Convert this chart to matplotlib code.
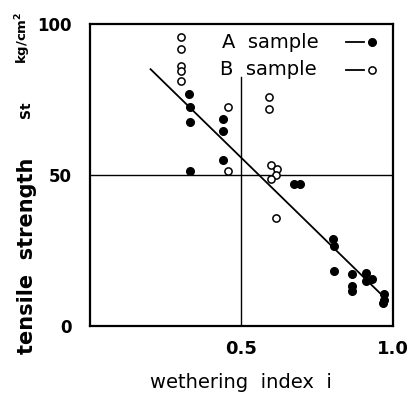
import matplotlib
matplotlib.use("Agg")
import matplotlib.pyplot as plt
import numpy as np

plt.rcParams['font.family'] = ['DejaVu Sans']

# --- data: weathering index vs tensile strength ---
a_index = [0.327, 0.329, 0.329, 0.329, 0.439, 0.439, 0.439,
           0.675, 0.693, 0.802, 0.805, 0.804, 0.864, 0.864, 0.864,
           0.912, 0.912, 0.930, 0.971, 0.971, 0.968]
a_strength = [76.7, 72.4, 67.4, 51.2, 68.7, 64.7, 55.0,
              47.0, 47.0, 28.7, 26.5, 18.3, 17.2, 13.2, 11.5,
              17.7, 15.0, 15.7, 10.6, 8.6, 7.5]

b_index = [0.300, 0.300, 0.300, 0.300, 0.300, 0.455, 0.455,
           0.590, 0.590, 0.596, 0.618, 0.614, 0.596, 0.613]
b_strength = [95.8, 91.7, 86.2, 84.5, 81.0, 72.6, 51.4,
              75.9, 72.0, 53.4, 52.1, 49.9, 48.7, 35.8]

# fitted line St = fit_a + fit_b * i
fit_a = 104.6
fit_b = -97.9
fit_range = [0.2, 0.971]

x_ticks = [0.5, 1.0]
x_ticklabels = ['0.5', '1.0']
y_ticks = [0, 50, 100]
y_ticklabels = ['0', '50', '100']

# --- plot ---
fig = plt.figure(figsize=(4.08, 3.93), dpi=100)
ax = fig.add_axes([0.2206, 0.1705, 0.7424, 0.7685])
ax.set_xlim(0, 1.0)
ax.set_ylim(0, 100)

ax.axhline(50, color='black', lw=1.0)
ax.plot([0.5, 0.5], [0, 82.5], color='black', lw=1.0)

fx = np.array(fit_range)
ax.plot(fx, fit_a + fit_b * fx, color='black', lw=1.3)

ax.plot(a_index, a_strength, 'o', color='black', ms=5.5, ls='none')
ax.plot(b_index, b_strength, 'o', mfc='white', mec='black', mew=1.1,
        ms=5.2, ls='none')

# legend drawn by hand: text, dash, marker
ax.text(0.436, 0.940, 'A  sample', transform=ax.transAxes, fontsize=14,
        va='center', ha='left')
ax.plot([0.845, 0.905], [0.940, 0.940], color='black', lw=1.3,
        transform=ax.transAxes)
ax.plot([0.931], [0.940], 'o', color='black', ms=5.5, transform=ax.transAxes)
ax.text(0.429, 0.848, 'B  sample', transform=ax.transAxes, fontsize=14,
        va='center', ha='left')
ax.plot([0.845, 0.905], [0.848, 0.848], color='black', lw=1.3,
        transform=ax.transAxes)
ax.plot([0.931], [0.848], 'o', mfc='white', mec='black', mew=1.1, ms=5.2,
        transform=ax.transAxes)

ax.set_xticks(x_ticks)
ax.set_xticklabels(x_ticklabels, fontsize=13, fontweight='bold')
ax.set_yticks(y_ticks)
ax.set_yticklabels(y_ticklabels, fontsize=12, fontweight='bold')
ax.tick_params(axis='x', length=0, pad=10)
ax.tick_params(axis='y', length=0, pad=13)
for s in ax.spines.values():
    s.set_linewidth(1.6)

# axis titles
fig.text(0.59, 0.026, 'wethering  index  i', fontsize=14,
         ha='center', va='center')
fig.text(0.066, 0.35, 'tensile  strength', rotation=90, fontsize=15,
         fontweight='bold', ha='center', va='center')
fig.text(0.064, 0.72, 'St', rotation=90, fontsize=10,
         fontweight='bold', ha='center', va='center')
fig.text(0.058, 0.905, 'kg/cm$^\\mathbf{2}$', rotation=90, fontsize=9.5,
         fontweight='bold', ha='center', va='center')

fig.savefig('out.png', dpi=100)
